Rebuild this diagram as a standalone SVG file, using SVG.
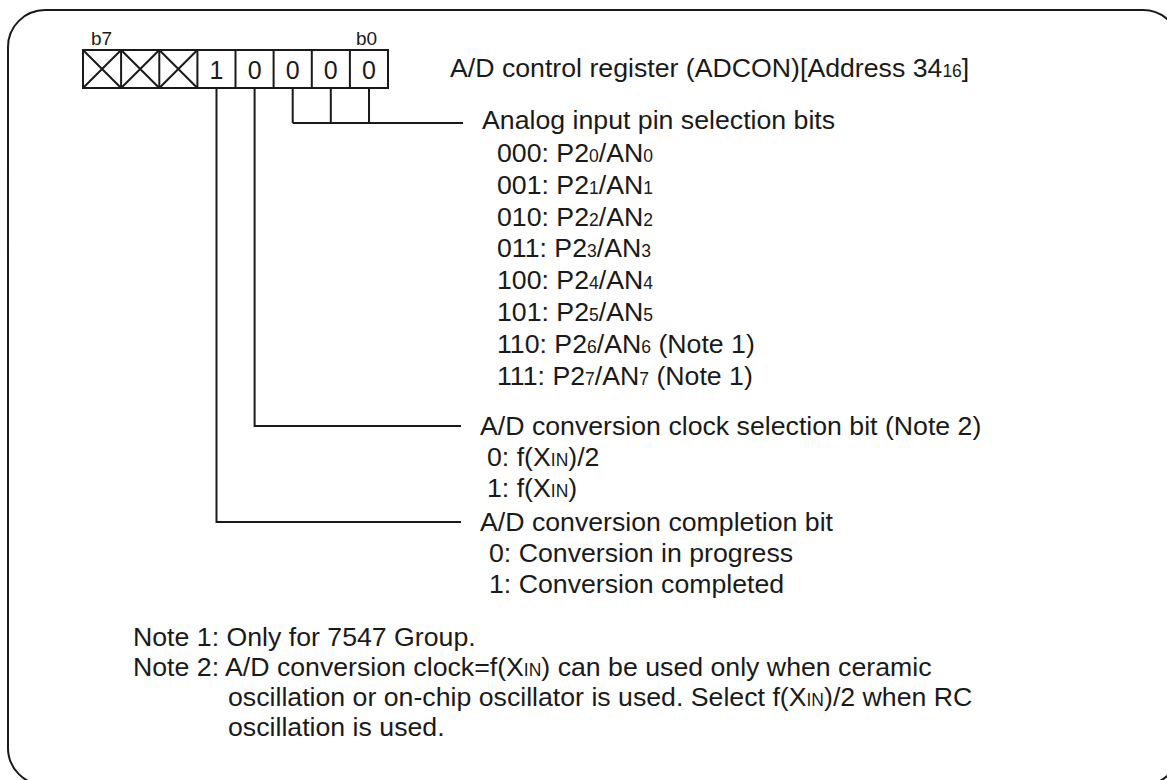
<svg xmlns="http://www.w3.org/2000/svg" width="1167" height="780" viewBox="0 0 1167 780">
<style>
.t{font-family:"Liberation Sans",Arial,sans-serif;font-size:26.7px;fill:#1a1a1a}
.s{font-size:17.5px}
.bl{font-family:"Liberation Sans",Arial,sans-serif;font-size:19px;fill:#1a1a1a}
.dg{font-family:"Liberation Sans",Arial,sans-serif;font-size:25px;fill:#1a1a1a;text-anchor:middle}
.ln{fill:none;stroke:#1a1a1a;stroke-width:2}
.cell{fill:#fff;stroke:#1a1a1a;stroke-width:2}
</style>
<rect x="0" y="0" width="1167" height="780" fill="#fff"/>
<path class="ln" d="M8,47 A37,37 0 0 1 45,10 L1143,10 A37,37 0 0 1 1180,47 L1180,748 A37,37 0 0 1 1143,785 L45,785 A37,37 0 0 1 8,748 Z"/>
<g id="register">
  <text class="bl" x="91" y="45">b7</text>
  <text class="bl" x="356" y="45">b0</text>
  <rect class="cell" x="83" y="50" width="305" height="38"/>
  <path class="ln" d="M121.1,50V88M159.3,50V88M197.4,50V88M235.5,50V88M273.6,50V88M311.8,50V88M349.9,50V88"/>
  <path class="ln" d="M83,50L121.1,88M121.1,50L83,88M121.1,50L159.3,88M159.3,50L121.1,88M159.3,50L197.4,88M197.4,50L159.3,88" stroke-width="1.6"/>
  <text class="dg" x="216.5" y="79">1</text>
  <text class="dg" x="254.6" y="79">0</text>
  <text class="dg" x="292.7" y="79">0</text>
  <text class="dg" x="330.8" y="79">0</text>
  <text class="dg" x="369" y="79">0</text>
</g>
<g id="title">
  <text class="t" x="450" y="77">A/D control register (ADCON)[Address 34<tspan class="s">16</tspan>]</text>
</g>
<g id="connectors">
  <path class="ln" d="M292.7,88V123M330.8,88V123M369,88V123M292.7,123H463"/>
  <path class="ln" d="M254.6,88V426H461"/>
  <path class="ln" d="M216.5,88V522H461"/>
</g>
<g id="analog">
  <text class="t" x="482" y="129">Analog input pin selection bits</text>
  <text class="t" x="497" y="162">000: P2<tspan class="s">0</tspan>/AN<tspan class="s">0</tspan></text>
  <text class="t" x="497" y="193.8">001: P2<tspan class="s">1</tspan>/AN<tspan class="s">1</tspan></text>
  <text class="t" x="497" y="225.6">010: P2<tspan class="s">2</tspan>/AN<tspan class="s">2</tspan></text>
  <text class="t" x="497" y="257.4">011: P2<tspan class="s">3</tspan>/AN<tspan class="s">3</tspan></text>
  <text class="t" x="497" y="289.2">100: P2<tspan class="s">4</tspan>/AN<tspan class="s">4</tspan></text>
  <text class="t" x="497" y="321">101: P2<tspan class="s">5</tspan>/AN<tspan class="s">5</tspan></text>
  <text class="t" x="497" y="352.8">110: P2<tspan class="s">6</tspan>/AN<tspan class="s">6</tspan> (Note 1)</text>
  <text class="t" x="497" y="384.6">111: P2<tspan class="s">7</tspan>/AN<tspan class="s">7</tspan> (Note 1)</text>
</g>
<g id="clock">
  <text class="t" x="480" y="435">A/D conversion clock selection bit (Note 2)</text>
  <text class="t" x="487" y="466">0: f(X<tspan class="s">IN</tspan>)/2</text>
  <text class="t" x="487" y="497">1: f(X<tspan class="s">IN</tspan>)</text>
</g>
<g id="completion">
  <text class="t" x="480" y="531">A/D conversion completion bit</text>
  <text class="t" x="489" y="562">0: Conversion in progress</text>
  <text class="t" x="489" y="593">1: Conversion completed</text>
</g>
<g id="notes">
  <text class="t" x="133" y="646">Note 1: Only for 7547 Group.</text>
  <text class="t" x="133" y="676">Note 2: A/D conversion clock=f(X<tspan class="s">IN</tspan>) can be used only when ceramic</text>
  <text class="t" x="228" y="706">oscillation or on-chip oscillator is used. Select f(X<tspan class="s">IN</tspan>)/2 when RC</text>
  <text class="t" x="228" y="736">oscillation is used.</text>
</g>
</svg>
